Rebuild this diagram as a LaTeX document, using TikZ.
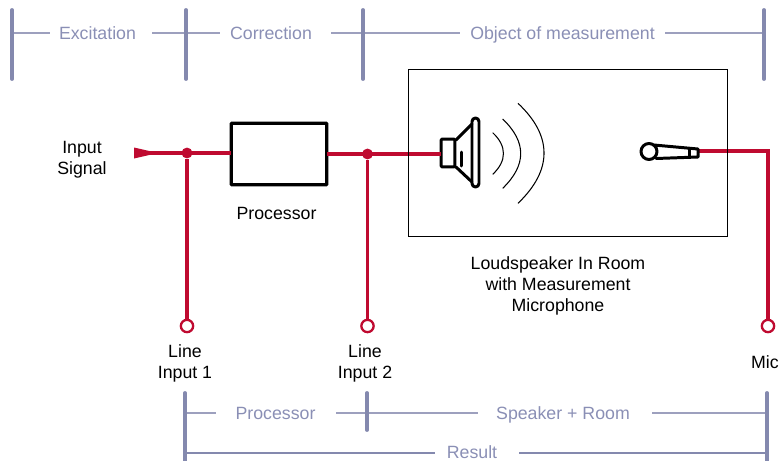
\documentclass[tikz,border=0pt]{standalone}
\usepackage{fontspec}
\setmainfont{Liberation Sans}
\definecolor{wirered}{HTML}{BF0A30}
\definecolor{barblue}{HTML}{8489AE}
\definecolor{spanblue}{HTML}{9DA0BE}
\definecolor{textblue}{HTML}{8A8FB5}
\tikzset{
  txt/.style={align=center,inner sep=0pt,font=\fontsize{10.1}{12}\selectfont},
  spantxt/.style={txt,text=textblue},
  bar/.style={line width=2.2pt,barblue,line cap=round},
  spanline/.style={line width=1pt,spanblue},
  wire/.style={line width=2.1pt,wirered},
  wiredot/.style={circle,fill=wirered,inner sep=0pt,minimum size=6.2pt},
  portring/.style={circle,draw=wirered,line width=1.3pt,fill=white,inner sep=0pt,minimum size=7pt},
  procbox/.style={draw,line width=1.9pt,rounded corners=0.4pt,outer sep=0pt,minimum width=54.4pt,minimum height=35pt},
  icon/.style={line width=1.7pt,line join=round,line cap=round},
  wave/.style={line width=0.6pt}
}
\begin{document}
\begin{tikzpicture}[x=0.02cm,y=-0.02cm]
\useasboundingbox (0,0) rectangle (781,460);
% top spans
\node[spantxt] (excitation) at (97.5,33) {Excitation};
\node[spantxt] (correction) at (271,33) {Correction};
\node[spantxt] (object) at (562.5,34.5) {Object of measurement};
\coordinate (excA) at (50,33);
\coordinate (excB) at (152,33);
\coordinate (corA) at (220,33);
\coordinate (corB) at (331,33);
\coordinate (objA) at (460,33);
\coordinate (objB) at (665,33);
\coordinate (barA) at (12,33);
\coordinate (barB) at (186,33);
\coordinate (barC) at (363,33);
\coordinate (barD) at (764,33);
\draw[spanline] (barA)--(excA);
\draw[spanline] (excB)--(corA);
\draw[spanline] (corB)--(objA);
\draw[spanline] (objB)--(barD);
\draw[bar] (12,10)--(12,79);
\draw[bar] (186,10)--(186,79);
\draw[bar] (363,10)--(363,79);
\draw[bar] (764,10)--(764,79);
% signal path
\node[txt] (inputlabel) at (82,159.5) {Input\\Signal};
\coordinate (input) at (134,153);
\node[procbox] (proc) at (279,154) {};
\node[txt] (proclabel) at (276.5,213) {Processor};
\node[wiredot] (jointA) at (187,153) {};
\node[wiredot] (jointB) at (367.5,154) {};
\node[draw,icon,rounded corners=0.5pt,outer sep=0pt,inner sep=0pt,minimum width=7.8pt,minimum height=15.8pt] (magnet) at (448,153) {};
\node[portring] (portA) at (187,326) {};
\node[portring] (portB) at (367.5,326) {};
\node[portring] (portC) at (768,326) {};
\draw[wire] (input)--(proc.west |- input);
\fill[wirered] (134,147.5)--(158,153)--(134,158.5)--cycle;
\draw[wire] (proc.east)--(magnet.west |- proc.east);
\draw[wire] (jointA)--(portA);
\draw[wire] (jointB)--(portB);
\coordinate (micend) at (698,151);
\draw[wire] (micend)-|(portC);
% room and speaker
\draw[line width=0.55pt] (408,69) rectangle (727,236);
\draw[icon] (456,140)--(472,124) (456,167)--(472,182);
\draw[icon] (461.5,152)--(461.5,166);
\draw[icon,rounded corners=2pt] (472,118) rectangle (479,187);
\draw[wave] (492.7,132.7) .. controls (507,146) and (507,161) .. (492.7,174.3);
\draw[wave] (502.7,119) .. controls (526.7,142) and (526.7,165) .. (502.7,188.3);
\draw[wave] (518,103.3) .. controls (552.7,136) and (552.7,170) .. (518,203.3);
% microphone
\draw[icon] (649,151.5) circle[radius=8];
\draw[icon] (654,145)--(698,149)--(698,157)--(656,158.5);
\draw[icon] (689,148.5)--(689,157.5);
% texts below
\node[txt] (roomlabel) at (558,286) {Loudspeaker In Room\\with Measurement\\Microphone};
\node[txt] (lineA) at (185,363.5) {Line\\Input 1};
\node[txt] (lineB) at (365,363.5) {Line\\Input 2};
\node[txt] (mic) at (765,362) {Mic};
% bottom spans
\node[spantxt] (procspan) at (275.5,413.5) {Processor};
\node[spantxt] (roomspan) at (563,415) {Speaker + Room};
\node[spantxt] (result) at (472,452.5) {Result};
\coordinate (lowA) at (185,413);
\coordinate (lowB) at (367,413);
\coordinate (lowC) at (767,413);
\coordinate (procA) at (216,413);
\coordinate (procB) at (336,413);
\coordinate (roomA) at (478,413);
\coordinate (roomB) at (652,413);
\coordinate (resA) at (185,453);
\coordinate (resB) at (435,453);
\coordinate (resC) at (519,453);
\coordinate (resD) at (767,453);
\draw[spanline] (lowA)--(procA);
\draw[spanline] (procB)--(roomA);
\draw[spanline] (roomB)--(lowC);
\draw[spanline,barblue,line width=0.8pt] (resA)--(resB);
\draw[spanline,barblue,line width=0.8pt] (resC)--(resD);
\draw[bar] (185,393)--(185,462);
\draw[bar] (367,393)--(367,430);
\draw[bar] (767,393)--(767,462);
\end{tikzpicture}
\end{document}
